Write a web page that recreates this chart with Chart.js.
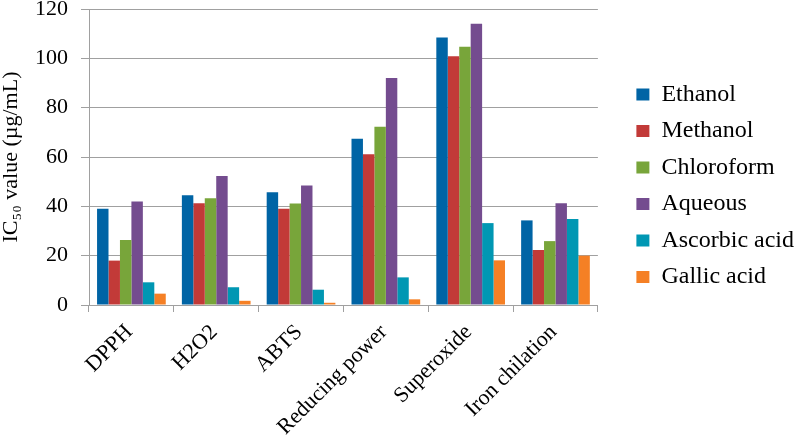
<!DOCTYPE html>
<html>
<head>
<meta charset="utf-8">
<script src="https://cdn.jsdelivr.net/npm/chart.js@4/dist/chart.umd.min.js"></script>
<style>
  html, body { margin: 0; padding: 0; background: #fff; }
  #wrap { width: 796px; height: 437px; }
</style>
</head>
<body>
<div id="wrap"><canvas id="grafik"></canvas></div>
<script>
var categories = ["DPPH", "H2O2", "ABTS", "Reducing power", "Superoxide", "Iron chilation"];
var ethanol    = [39, 44.5, 45.7, 67.4, 108.4, 34.3];
var methanol   = [18, 41.2, 39, 61.1, 100.8, 22.3];
var chloroform = [26.4, 43.3, 41.1, 72.3, 104.7, 25.9];
var aqueous    = [42, 52.3, 48.4, 92, 114, 41.2];
var ascorbic   = [9.2, 7.2, 6.2, 11.2, 33.2, 34.9];
var gallic     = [4.6, 1.7, 0.9, 2.3, 18.1, 20];
var yTicks = [0, 20, 40, 60, 80, 100, 120];

var serif = "'Liberation Serif', 'Times New Roman', serif";
Chart.defaults.font.family = serif;
Chart.defaults.color = "#000";

function seri(label, data, color) {
    return { label: label, data: data, backgroundColor: color, borderWidth: 0 };
}

// legend sits a bit away from the plot, lower than centre
var legendShift = {
    id: "legendShift",
    afterLayout: function (chart) {
        var lg = chart.legend;
        lg.left += 26; lg.right += 26;
        lg.top += 70; lg.bottom += 70;
    }
};

var chart = new Chart("grafik", {
    type: "bar",
    data: {
        labels: categories,
        datasets: [
            seri("Ethanol", ethanol, "#0064a5"),
            seri("Methanol", methanol, "#c23a38"),
            seri("Chloroform", chloroform, "#78a53a"),
            seri("Aqueous", aqueous, "#744c8f"),
            seri("Ascorbic acid", ascorbic, "#0097b3"),
            seri("Gallic acid", gallic, "#f58025")
        ]
    },
    plugins: [legendShift],
    options: {
        responsive: true,
        maintainAspectRatio: false,
        animation: false,
        datasets: { bar: { barPercentage: 1, categoryPercentage: 0.81 } },
        layout: { padding: { top: 0, right: 18, left: 0, bottom: 0 } },
        plugins: {
            tooltip: { enabled: false },
            legend: {
                position: "right",
                align: "start",
                labels: {
                    boxWidth: 13,
                    boxHeight: 12,
                    padding: 12.5,
                    font: { family: serif, size: 24 }
                }
            }
        },
        scales: {
            x: {
                afterFit: function (axis) { axis.height = 132; },
                grid: { offset: true, drawOnChartArea: false, color: "#a0a0a0", tickLength: 7 },
                border: { color: "#a0a0a0" },
                ticks: {
                    autoSkip: false,
                    minRotation: 45,
                    maxRotation: 45,
                    padding: 9,
                    labelOffset: -2,
                    font: { family: serif, size: 22, lineHeight: 1 }
                }
            },
            y: {
                min: 0,
                max: 120,
                afterBuildTicks: function (axis) {
                    axis.ticks = yTicks.map(function (v) { return { value: v }; });
                },
                afterFit: function (axis) { axis.paddingTop = 9; },
                grid: { color: "#a0a0a0", tickLength: 8 },
                border: { color: "#a0a0a0" },
                ticks: {
                    padding: 13,
                    font: { family: serif, size: 22 }
                },
                title: {
                    display: true,
                    text: "IC\u2085\u2080 value (\u00b5g/mL)",
                    padding: 0,
                    font: { family: serif, size: 22, lineHeight: 1 }
                }
            }
        }
    }
});
</script>
</body>
</html>
